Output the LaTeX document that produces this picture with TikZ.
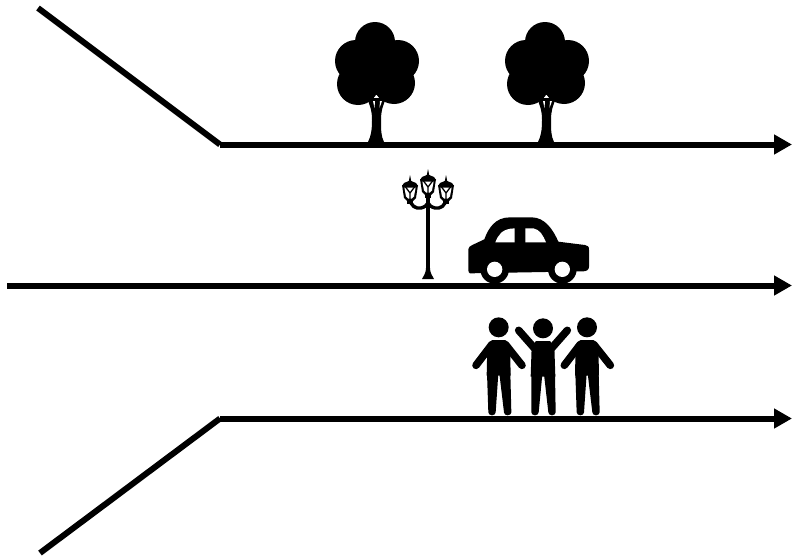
\documentclass[tikz,border=0pt]{standalone}
\usetikzlibrary{arrows.meta}
\tikzset{
  road/.style={line width=6pt,line cap=butt,line join=miter},
  roadarrow/.style={road,-{Triangle[length=18pt,width=19pt]}},
  limb/.style={line width=7.6pt,line cap=round,black},
  tree/.pic={
    \fill (375,42) circle (20);
    \fill (356,61) circle (21);
    \fill (398,61) circle (21);
    \fill (358,84) circle (21);
    \fill (394,83) circle (21);
    \fill (362,50) rectangle (392,95);
    \fill (367,98) .. controls (370,106) and (372,110) .. (372,120)
      .. controls (372,130) and (371,136) .. (368,142) -- (384,142)
      .. controls (381,136) and (381,130) .. (381,120)
      .. controls (381,110) and (383,106) .. (386,98) -- cycle;
    \fill[white] (373,101) -- (375,101) -- (374.5,108) -- cycle;
    \fill[white] (380,101) -- (382,101) -- (379.5,108) -- cycle;
  },
  lantern/.pic={
    % local coordinates: centre of the glass at (0,0)
    \fill (0,-15) -- (1.2,-9) -- (6,-7) -- (8,-4) -- (-8,-4) -- (-6,-7) -- (-1.2,-9) -- cycle;
    \fill[black] (-8,-5) -- (8,-5) -- (6,8) -- (3,11) -- (-3,11) -- (-6,8) -- cycle;
    \fill[white] (-5.6,-2.5) -- (5.6,-2.5) -- (4,6.5) -- (1.8,8.5) -- (-1.8,8.5) -- (-4,6.5) -- cycle;
    \draw[black,line width=1.3pt] (-4.5,-3) -- (0,3) -- (4.5,-3) (0,3) -- (0,9);
    \fill (-3,10) rectangle (3,14);
  },
  person/.pic={
    \fill (116,67) circle (30);
    \fill (97,105) -- (135,105) -- (150,120) -- (152,212) -- (80,212) -- (82,120) -- cycle;
    \draw[limb] (96,118) -- (48,181);
    \draw[limb] (136,118) -- (186,181);
    \fill (81,205) -- (115,205) -- (107,322) arc (0:180:11 and 9) -- cycle;
    \fill (118,205) -- (151,205) -- (154,322) arc (0:180:11 and 9) -- cycle;
  },
  cheerer/.pic={
    \fill (249,70) circle (30);
    \fill (228,108) -- (270,108) -- (283,125) -- (286,215) -- (212,215) -- (215,125) -- cycle;
    \draw[limb] (228,135) -- (176,76);
    \draw[limb] (270,135) -- (322,76);
    \fill (214,208) -- (247,208) -- (236,322) arc (0:180:11 and 9) -- cycle;
    \fill (252,208) -- (285,208) -- (287,322) arc (0:180:11 and 9) -- cycle;
  }
}
\begin{document}
\begin{tikzpicture}[x=1pt,y=-1pt]
\useasboundingbox (0,0) rectangle (792,557);
\coordinate (topstart) at (38,8);
\coordinate (topbend) at (220,144.5);
\coordinate (topend) at (792,144.5);
\coordinate (midstart) at (7,285.5);
\coordinate (midend) at (792,285.5);
\coordinate (botstart) at (40,553);
\coordinate (botbend) at (220,418.5);
\coordinate (botend) at (792,418.5);

% trees
\pic {tree};
\pic[shift={(170,0)}] {tree};

% street lamp
\begin{scope}
  \fill (426,195) rectangle (430,272);
  \fill (422,279) .. controls (424,275) and (426,273) .. (426,268) -- (430,268)
     .. controls (430,273) and (432,275) .. (434,279) -- cycle;
  \draw[line width=3.4pt] (410,198) .. controls (410,206) and (416,209) .. (421,208)
     .. controls (425,207) and (427,205) .. (428,203)
     .. controls (429,205) and (431,207) .. (435,208)
     .. controls (440,209) and (446,206) .. (446,198);
  \pic at (428,184) {lantern};
  \pic at (410,190) {lantern};
  \pic at (446,190) {lantern};
\end{scope}

% car
\begin{scope}[shift={(390,160)},x=1/3*1pt,y=-1/3*1pt]
  \fill (247,255) -- (283,238) .. controls (295,205) and (315,172) .. (360,172)
    -- (425,172) .. controls (465,172) and (490,210) .. (505,245)
    -- (585,255) .. controls (594,256) and (597,260) .. (597,270)
    -- (597,320) .. controls (597,330) and (590,333) .. (580,334)
    -- (240,340) .. controls (236,338) and (235,335) .. (235,330)
    -- (235,268) .. controls (235,262) and (240,258) .. (247,255) -- cycle;
  \fill (314,328) circle (43);
  \fill (517,328) circle (43);
  \fill[white] (314,328) circle (23);
  \fill[white] (517,328) circle (23);
  \fill[white] (316,247) .. controls (325,225) and (335,206) .. (374,205) -- (374,247) -- cycle;
  \fill[white] (406,205) -- (430,205) .. controls (450,208) and (460,228) .. (468,247) -- (406,247) -- cycle;
\end{scope}

% people
\begin{scope}[shift={(460,305)},x=1/3*1pt,y=-1/3*1pt]
  \pic {person};
  \pic {cheerer};
  \pic[shift={(265,0)}] {person};
\end{scope}

% roads
\draw[road] (topstart) -- (topbend);
\draw[roadarrow] (topbend) -- (topend);
\draw[roadarrow] (midstart) -- (midend);
\draw[road] (botstart) -- (botbend);
\draw[roadarrow] (botbend) -- (botend);
\end{tikzpicture}
\end{document}
